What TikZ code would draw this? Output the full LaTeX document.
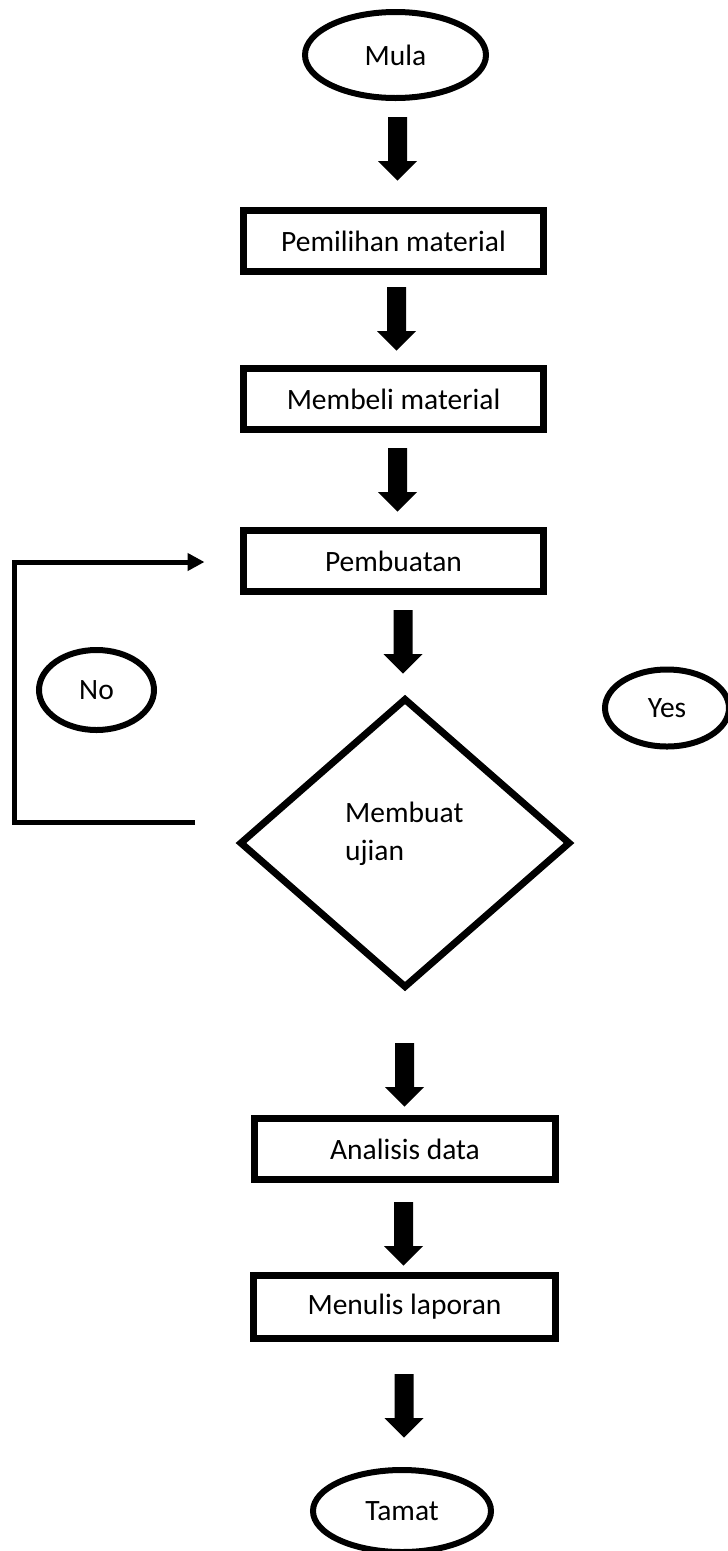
\documentclass[tikz,border=0pt]{standalone}
\usepackage{fontspec}
\setmainfont{Carlito}
\usetikzlibrary{shapes.geometric,arrows.meta}
\tikzset{
  every node/.style={font=\fontsize{29.5}{38}\selectfont, inner sep=0pt},
  procbox/.style={draw, line width=7pt, rectangle, minimum width=300pt, minimum height=61pt},
  term/.style={draw, line width=6pt, ellipse},
  decis/.style={draw, line width=7pt, diamond, minimum width=331pt, minimum height=290pt},
  loopline/.style={line width=5pt, line join=miter},
  bdown/.pic={\fill (-9.5,0) -- (9.5,0) -- (9.5,44) -- (19.5,44) -- (0,63.5) -- (-19.5,44) -- (-9.5,44) -- cycle;}
}
\begin{document}
\begin{tikzpicture}[x=1pt,y=-1pt]
\useasboundingbox (0,0) rectangle (728,1551);
% terminals
\node[term, minimum width=181pt, minimum height=86pt] (mula) at (395.5,55) {Mula};
\node[term, minimum width=115pt, minimum height=80pt] (no) at (96.5,690) {No};
\node[term, minimum width=124pt, minimum height=77pt] (yes) at (667,708) {Yes};
\node[term, minimum width=178pt, minimum height=82pt] (tamat) at (402,1511) {Tamat};
% process boxes
\node[procbox] (pilih) at (393.5,241) {Pemilihan material};
\node[procbox] (beli) at (393.5,399) {Membeli material};
\node[procbox] (buat) at (393.5,561) {Pembuatan};
\node[procbox, minimum width=301pt] (analisis) at (405,1149) {Analisis data};
\node[procbox, minimum width=302pt, minimum height=63pt] (lapor) at (404.5,1307) {Menulis laporan};
% decision
\node[decis] (uji) at (405,843) {};
\node[align=left, anchor=west] (ujitext) at (345,834) {Membuat\\ujian};
% block arrows
\pic at (397.5,117) {bdown};
\pic at (396.5,287) {bdown};
\pic at (397.5,448) {bdown};
\pic at (403,610) {bdown};
\pic at (404.5,1043) {bdown};
\pic at (403.5,1202) {bdown};
\pic at (404,1374) {bdown};
% No loop
\coordinate (loopstart) at (195,822);
\coordinate (loopbl) at (14,822);
\coordinate (looptl) at (14,562);
\coordinate (loopend) at (204.5,562);
\draw[loopline, -{Triangle[length=17pt,width=17pt]}] (loopstart) -- (loopbl) -- (looptl) -- (loopend);
\end{tikzpicture}
\end{document}
